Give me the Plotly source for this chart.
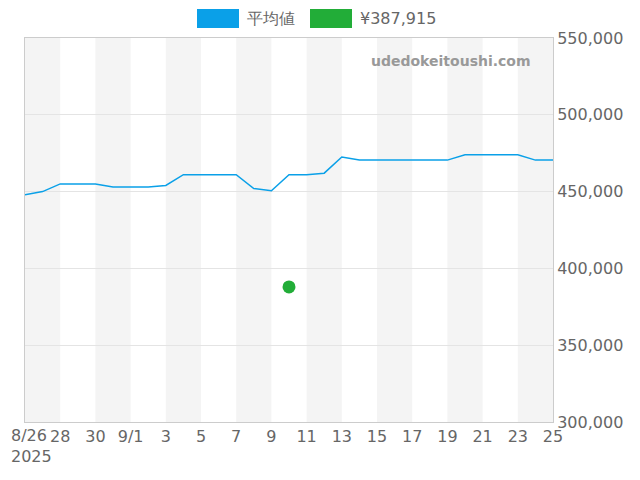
import plotly.graph_objects as go
import pandas as pd

dates = pd.date_range("2025-08-26", "2025-09-25", freq="D")
avg = [448000, 450000, 455000, 455000, 455000, 453000, 453000, 453000, 454000,
       461000, 461000, 461000, 461000, 452000, 450500, 461000, 461000, 462000,
       472500, 470500, 470500, 470500, 470500, 470500, 470500, 474000, 474000,
       474000, 474000, 470500, 470500]
point_date = ["2025-09-10"]
point_val = [387915]
legend_names = ["平均値", "¥387,915"]
legend_colors = ["#0aa0e8", "#22ad38"]

tick_dates = dates[::2]
tick_text = ["", "28", "30", "9/1", "3", "5", "7", "9", "11", "13",
             "15", "17", "19", "21", "23", "25"]
first_tick = "8/26<br>2025"

fig = go.Figure()

# grey bands every other two days
shapes = []
for i in range(0, len(dates) - 1, 4):
    shapes.append(dict(type="rect", xref="x", yref="paper", layer="below",
                       x0=dates[i], x1=dates[min(i + 2, len(dates) - 1)], y0=0, y1=1,
                       fillcolor="#f4f4f4", line_width=0))

fig.add_trace(go.Scatter(x=dates, y=avg, mode="lines", line=dict(color=legend_colors[0], width=1.5),
                         showlegend=False))
fig.add_trace(go.Scatter(x=point_date, y=point_val, mode="markers",
                         marker=dict(color=legend_colors[1], size=13), showlegend=False))

# legend drawn by hand (rectangular swatches)
W, H = 640, 480
lx = [197, 310]
for x0, name, col in zip(lx, legend_names, legend_colors):
    shapes.append(dict(type="rect", xref="paper", yref="paper",
                       x0=(x0 - 25) / 528, x1=(x0 + 42 - 25) / 528,
                       y0=(422 - 28) / 384, y1=(422 - 9) / 384,
                       fillcolor=col, line_width=0))
    fig.add_annotation(text=name, xref="paper", yref="paper", x=(x0 + 48 - 25) / 528,
                       y=(422 - 18.5) / 384, xanchor="left", yanchor="middle", showarrow=False,
                       font=dict(size=16, color="#666"))

# first tick label (would be clipped as a normal tick)
fig.add_annotation(text=first_tick, xref="x", yref="paper", x=dates[0], y=0, yshift=-2,
                   xshift=-16, xanchor="left", yanchor="top", showarrow=False, align="left",
                   font=dict(size=16, color="#666"))

fig.add_annotation(text="<b>udedokeitoushi.com</b>", xref="paper", yref="paper", x=0.962, y=0.965,
                   xanchor="right", yanchor="top", showarrow=False,
                   font=dict(size=14, color="#999", family="DejaVu Sans"))

# page body has an 8px margin, so margins are shifted to compensate
fig.update_layout(
    width=W, height=H, plot_bgcolor="white", paper_bgcolor="white",
    margin=dict(l=17, r=95, t=30, b=66, autoexpand=False),
    font=dict(family="DejaVu Sans", size=16, color="#666"),
    shapes=shapes, showlegend=False,
    xaxis=dict(range=[dates[0], dates[-1]], tickvals=tick_dates, ticktext=tick_text,
               showgrid=False, showline=True, linecolor="#ccc", mirror=True, ticks="",
               tickangle=0, automargin=False),
    yaxis=dict(range=[300000, 550000], side="right", tickformat=",", dtick=50000,
               gridcolor="#e4e4e4", showline=True, linecolor="#ccc", mirror=True,
               zeroline=False, automargin=False),
)

fig.write_html("out.html")
